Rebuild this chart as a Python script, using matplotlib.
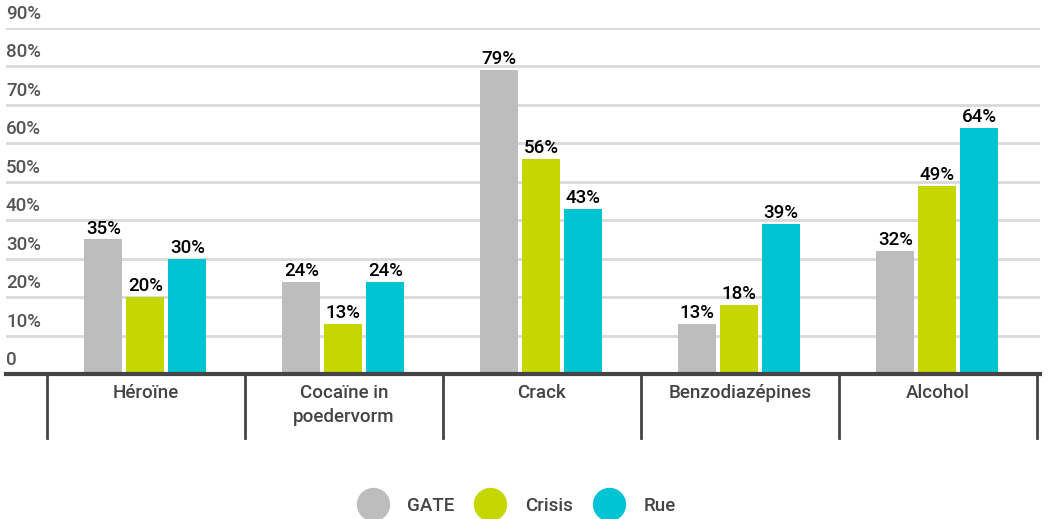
import numpy as np
import matplotlib.pyplot as plt
from matplotlib.lines import Line2D
import matplotlib.transforms as mtransforms

plt.rcParams['font.family'] = ['Roboto', 'DejaVu Sans']
plt.rcParams['font.weight'] = 'medium'

categories = ['Héroïne', 'Cocaïne in\npoedervorm', 'Crack', 'Benzodiazépines', 'Alcohol']
series = ['GATE', 'Crisis', 'Rue']
gate = [35, 24, 79, 13, 32]
crisis = [20, 13, 56, 18, 49]
rue = [30, 24, 43, 39, 64]
colors = ['#bdbdbd', '#c5d600', '#00c3d4']
yticks = [0, 10, 20, 30, 40, 50, 60, 70, 80, 90]

fig = plt.figure(figsize=(10.48, 5.19), dpi=100)
ax = fig.add_axes([6 / 1048, (519 - 374) / 519, 1034 / 1048, 346 / 519])

x = np.arange(len(categories))
bw = 38 / 198
step = 42 / 198
for i, (vals, c) in enumerate(zip([gate, crisis, rue], colors)):
    pos = x + (i - 1) * step - 0.004
    ax.bar(pos, vals, width=bw, color=c, zorder=3)
    for p, v in zip(pos, vals):
        ax.text(p, v + 0.5, f'{v}%', ha='center', va='bottom', fontsize=13.5,
                color='black', zorder=4)

ax.set_xlim(-0.5 - 41 / 198, 4.5 + 3 / 198)
ax.set_ylim(0, 90)

for v in yticks:
    if v > 0:
        ax.axhline(v, color='#d9d9d9', lw=2, zorder=1)
    lab = '0' if v == 0 else f'{v}%'
    ax.text(0, v + 1.3, lab, transform=mtransforms.blended_transform_factory(ax.transAxes, ax.transData),
            ha='left', va='bottom', fontsize=13.5, color='#555555')

ax.axhline(0, color='#444444', lw=3, zorder=5, clip_on=False)

trans = mtransforms.blended_transform_factory(ax.transData, ax.transAxes)
for s in np.arange(-0.5, len(categories), 1.0):
    ax.plot([s, s], [0, -64 / 346], color='#444444', lw=2, transform=trans, clip_on=False)
for xi, cat in zip(x, categories):
    ax.text(xi, -10 / 346, cat, transform=trans, ha='center', va='top', fontsize=13.5,
            color='#444444', linespacing=1.45)

for s in ['top', 'right', 'left', 'bottom']:
    ax.spines[s].set_visible(False)
ax.set_xticks([])
ax.set_yticks([])

handles = [Line2D([], [], marker='o', ls='', markersize=23, color=c) for c in colors]
fig.legend(handles, series, loc='center', bbox_to_anchor=(517 / 1048, 1 - 506 / 519), ncol=3,
           frameon=False, fontsize=13.5, labelcolor='#444444', handletextpad=1.1, columnspacing=1.15,
           handlelength=1.5)

fig.savefig('out.png', dpi=100)
